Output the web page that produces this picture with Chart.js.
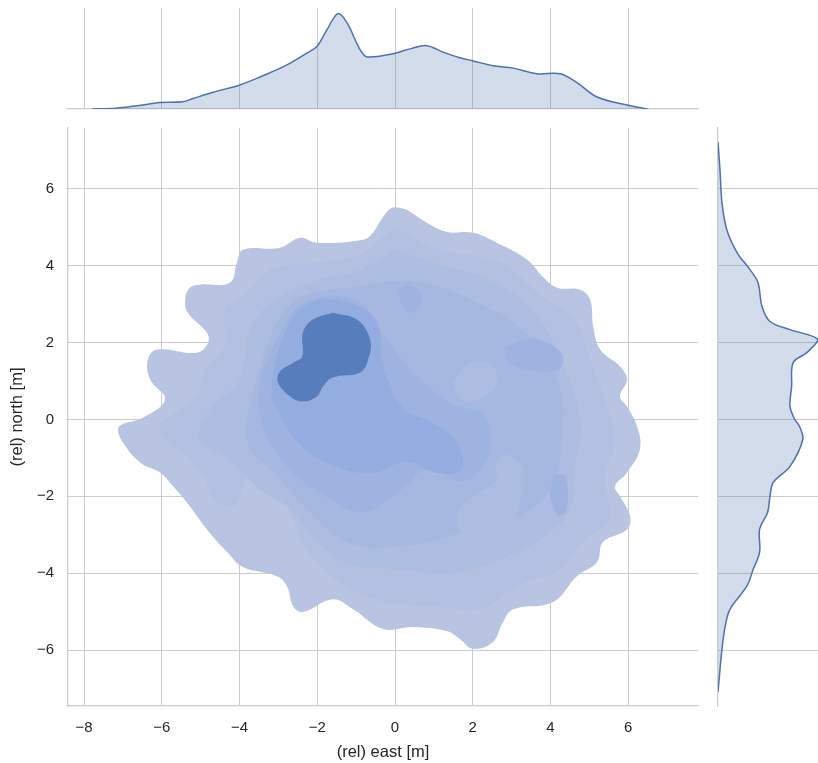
<!DOCTYPE html>
<html>
<head>
<meta charset="utf-8">
<script src="https://cdn.jsdelivr.net/npm/chart.js@4.4.0/dist/chart.umd.min.js"></script>
<style>
  html, body { margin: 0; padding: 0; background: #fff; }
  #wrap { position: relative; width: 818px; height: 763px; overflow: hidden; }
  canvas { position: absolute; }
  #top-chart { left: 0; top: 0; }
  #main-chart { left: 0; top: 118px; }
  #side-chart { left: 708px; top: 118px; }
</style>
</head>
<body>
<div id="wrap">
  <canvas id="top-chart" width="708" height="118"></canvas>
  <canvas id="main-chart" width="708" height="645"></canvas>
  <canvas id="side-chart" width="110" height="645"></canvas>
</div>
<script>
// marginal kde of east (x) and north (y), density
const eastGrid = [-7.8, -7.18, -6.64, -6.05, -5.46, -5.2, -4.68, -3.99, -3.47, -2.78, -2.26, -2.01, -1.75, -1.47, -1.24, -0.9, -0.72, -0.05, 0.39, 0.82, 1.24, 1.67, 2.01, 2.52, 3.04, 3.65, 4.25, 4.68, 5.2, 5.97, 6.5];
const eastDensity = [0, 0.001, 0.004, 0.008, 0.009, 0.013, 0.021, 0.030, 0.040, 0.055, 0.070, 0.078, 0.099, 0.119, 0.108, 0.074, 0.065, 0.069, 0.075, 0.079, 0.071, 0.064, 0.060, 0.054, 0.051, 0.044, 0.044, 0.033, 0.015, 0.005, 0];

const northGrid = [7.22, 6.49, 5.64, 4.94, 4.34, 3.9, 3.56, 2.94, 2.55, 2.34, 2.08, 1.74, 1.48, 0.86, 0.34, 0.0, -0.18, -0.52, -1.22, -1.64, -2.0, -2.42, -2.86, -3.45, -3.9, -4.34, -4.94, -5.38, -5.97, -7.09];
const northDensity = [0, 0.0025, 0.005, 0.011, 0.024, 0.040, 0.050, 0.055, 0.065, 0.090, 0.125, 0.111, 0.094, 0.092, 0.090, 0.096, 0.102, 0.106, 0.090, 0.069, 0.065, 0.062, 0.052, 0.052, 0.044, 0.036, 0.015, 0.009, 0.005, 0];

// filled kde contour levels, [east, north] vertices
const level1 = [[0.13,5.51],[0.31,5.45],[0.82,5.12],[1.34,4.88],[2.01,4.86],[2.62,4.6],[3.4,4.16],[3.81,3.71],[4.17,3.43],[4.76,3.38],[5.02,3.12],[5.1,2.42],[5.28,1.82],[5.79,1.38],[5.97,1.04],[5.79,0.6],[5.97,0.34],[6.23,-0.18],[6.3,-0.78],[5.97,-1.38],[5.66,-1.74],[5.79,-2.0],[6.05,-2.52],[5.97,-2.86],[5.35,-3.19],[5.2,-3.71],[4.68,-4.08],[4.07,-4.75],[3.04,-4.94],[2.78,-5.27],[2.52,-5.79],[2.01,-5.97],[1.67,-5.71],[1.34,-5.51],[0.46,-5.4],[-0.31,-5.45],[-1.08,-4.94],[-1.6,-4.68],[-2.37,-5.01],[-2.62,-4.86],[-2.78,-4.34],[-3.04,-4.08],[-3.91,-3.84],[-4.32,-3.45],[-4.84,-2.86],[-5.28,-2.26],[-5.71,-1.74],[-6.05,-1.38],[-6.56,-1.12],[-7.0,-0.6],[-7.13,-0.26],[-7.03,-0.13],[-6.48,0.05],[-5.92,0.52],[-6.3,1.04],[-6.36,1.56],[-6.12,1.82],[-5.1,1.74],[-4.81,2.0],[-4.84,2.26],[-5.33,2.78],[-5.4,3.12],[-5.28,3.43],[-5.02,3.51],[-4.25,3.56],[-4.07,4.08],[-3.91,4.42],[-2.96,4.47],[-2.44,4.73],[-2.01,4.6],[-0.82,4.68],[-0.57,4.86],[-0.31,5.27],[-0.08,5.51]];
const level2 = [[0.0,4.99],[1.16,4.42],[2.7,4.1],[3.73,3.25],[4.63,2.6],[5.02,1.56],[5.4,0.52],[5.66,-0.52],[5.4,-1.56],[5.53,-2.6],[4.89,-3.12],[4.25,-3.9],[3.22,-4.29],[2.19,-4.94],[1.16,-4.88],[0.13,-4.81],[-0.31,-4.75],[-1.42,-4.24],[-2.01,-3.71],[-2.44,-3.12],[-2.78,-2.26],[-3.29,-1.56],[-3.81,-1.48],[-3.91,-1.82],[-4.17,-2.26],[-4.68,-2.08],[-4.89,-1.56],[-5.4,-0.91],[-5.92,-0.52],[-6.05,-0.13],[-5.53,0.26],[-5.02,0.78],[-4.89,1.3],[-4.37,1.95],[-4.37,2.86],[-3.73,3.38],[-3.22,3.9],[-1.93,4.1],[-0.9,4.29],[-0.26,4.81]];
const level3 = [[0.0,4.42],[1.16,4.03],[2.7,3.51],[3.73,2.6],[4.25,1.56],[4.76,0.0],[4.63,-1.3],[4.5,-2.34],[3.73,-3.12],[2.7,-3.64],[1.42,-4.03],[0.13,-3.9],[-1.16,-3.77],[-1.93,-3.25],[-2.7,-2.34],[-3.47,-1.82],[-4.25,-1.04],[-5.02,-0.52],[-4.76,0.26],[-3.99,1.04],[-3.73,2.34],[-3.09,3.12],[-1.93,3.64],[-0.9,3.9]];
const level4 = [[-1.5,3.4],[0.5,3.6],[2.0,3.1],[3.3,2.3],[4.2,1.0],[4.3,-0.5],[4.0,-1.8],[3.0,-2.6],[1.5,-3.0],[0.2,-3.3],[-1.2,-3.2],[-2.2,-2.4],[-3.0,-1.5],[-3.8,-0.6],[-3.7,0.5],[-3.4,1.6],[-3.0,2.6],[-2.4,3.2]];
const level4HoleSouth = [[2.9,-0.9],[3.3,-1.3],[3.2,-2.2],[2.9,-3.0],[2.3,-3.5],[1.8,-3.1],[1.6,-2.5],[2.0,-2.0],[2.6,-1.6],[2.6,-1.1]];
const level4HoleEast = [[1.5,1.0],[2.0,1.5],[2.5,1.4],[2.6,0.9],[2.1,0.5],[1.6,0.6]];
const level5 = [[-3.2,1.8],[-2.4,3.0],[-1.0,3.1],[-0.3,2.2],[0.5,1.2],[1.5,0.4],[2.3,0.1],[2.4,-0.9],[1.8,-1.6],[0.8,-1.3],[0.2,-1.8],[-0.8,-2.4],[-1.8,-2.0],[-2.8,-1.2],[-3.4,-0.2],[-3.5,0.8]];
const level5East = [[2.8,1.9],[3.6,2.1],[4.3,1.7],[4.2,1.3],[3.4,1.3],[2.9,1.5]];
const level5North = [[0.1,3.4],[0.4,3.5],[0.7,3.2],[0.5,2.8],[0.2,2.9]];
const level5SouthEast = [[4.1,-1.4],[4.4,-1.5],[4.4,-2.4],[4.2,-2.5],[4.0,-2.0]];
const level6 = [[-3.2,0.6],[-3.0,1.8],[-2.4,2.9],[-1.4,3.1],[-0.5,2.6],[-0.3,1.4],[0.2,0.3],[1.0,-0.1],[1.6,-0.6],[1.7,-1.3],[1.1,-1.4],[0.3,-1.1],[-0.6,-1.4],[-1.6,-1.2],[-2.5,-0.6]];
const level7 = [[-1.6,2.78],[-0.98,2.6],[-0.64,2.08],[-0.69,1.56],[-0.9,1.22],[-1.6,1.09],[-1.85,0.86],[-2.01,0.6],[-2.37,0.47],[-2.7,0.6],[-3.01,0.96],[-2.96,1.25],[-2.62,1.48],[-2.39,1.64],[-2.37,2.26],[-2.11,2.6]];

const xTicks = [-8, -6, -4, -2, 0, 2, 4, 6];
const yTicks = [-6, -4, -2, 0, 2, 4, 6];

const blue = '#4c72b0';
const levelColors = ['#b9c4e2', '#b3c0e1', '#adbce1', '#a7b8e0', '#9fb3e0', '#94ade0', '#587dbd'];
const gridColor = '#cccccc';
const textColor = '#262626';
const xMin = -8.415, xMax = 7.797;
const yMin = -7.457, yMax = 7.587;

Chart.defaults.font.family = '"Liberation Sans", Arial, sans-serif';
Chart.defaults.color = textColor;
Chart.defaults.animation = false;

const minus = v => (v < 0 ? '\u2212' : '') + Math.abs(v);

// drawn bottom to top
const shapes = [
  [level1, 0], [level2, 1], [level3, 2], [level4, 3],
  [level4HoleSouth, 2], [level4HoleEast, 2],
  [level5, 4], [level5East, 4], [level5North, 4], [level5SouthEast, 4],
  [level6, 5], [level7, 6]
];

const contourSets = shapes.map(([pts, lvl], i) => ({
  data: pts.concat([pts[0]]).map(p => ({x: p[0], y: p[1]})),
  showLine: true,
  fill: 'shape',
  backgroundColor: levelColors[lvl],
  borderWidth: 0,
  borderColor: 'rgba(0,0,0,0)',
  pointRadius: 0,
  tension: 0.4,
  order: 100 - i,
}));

// keep the plot box fixed, no extra room for half labels
const fixX = h => s => { s.height = h; s.paddingLeft = 0; s.paddingRight = 0; };
const fixY = w => s => { s.width = w; s.paddingTop = 0; s.paddingBottom = 0; };

new Chart(document.getElementById('main-chart'), {
  type: 'scatter',
  data: { datasets: contourSets },
  options: {
    responsive: false,
    layout: { padding: { left: 0, right: 10, top: 10, bottom: 0 } },
    plugins: { legend: { display: false }, tooltip: { enabled: false } },
    scales: {
      x: {
        min: xMin, max: xMax,
        afterBuildTicks: s => { s.ticks = xTicks.map(v => ({value: v})); },
        afterFit: fixX(57),
        ticks: { callback: minus, font: { size: 15 }, padding: 13, maxRotation: 0, color: textColor },
        grid: { color: gridColor, lineWidth: 1, drawTicks: false },
        border: { color: gridColor, width: 1.25 },
        title: { display: true, text: '(rel) east [m]', font: { size: 16.5 }, color: textColor, padding: { top: 0, bottom: 1 } },
      },
      y: {
        min: yMin, max: yMax,
        afterBuildTicks: s => { s.ticks = yTicks.map(v => ({value: v})); },
        afterFit: fixY(68),
        ticks: { callback: minus, font: { size: 15 }, padding: 14, color: textColor },
        grid: { color: gridColor, lineWidth: 1, drawTicks: false },
        border: { color: gridColor, width: 1.25 },
        title: { display: true, text: '(rel) north [m]', font: { size: 16.5 }, color: textColor, padding: { top: 8, bottom: 0 } },
      }
    }
  }
});

new Chart(document.getElementById('top-chart'), {
  type: 'scatter',
  data: {
    datasets: [{
      data: eastGrid.map((x, i) => ({x: x, y: eastDensity[i]})),
      showLine: true,
      fill: 'origin',
      backgroundColor: 'rgba(76,114,176,0.25)',
      borderColor: blue,
      borderWidth: 1.5,
      pointRadius: 0,
      tension: 0.35,
    }]
  },
  options: {
    responsive: false,
    layout: { padding: { left: 68, right: 10, top: 8, bottom: 0 } },
    plugins: { legend: { display: false }, tooltip: { enabled: false } },
    scales: {
      x: {
        min: xMin, max: xMax,
        afterBuildTicks: s => { s.ticks = xTicks.map(v => ({value: v})); },
        afterFit: fixX(9),
        ticks: { display: false },
        grid: { color: gridColor, lineWidth: 1, drawTicks: false },
        border: { color: gridColor, width: 1.25 },
      },
      y: { display: false, min: 0, max: 0.126 }
    }
  }
});

new Chart(document.getElementById('side-chart'), {
  type: 'scatter',
  data: {
    datasets: [{
      data: northGrid.map((y, i) => ({x: northDensity[i], y: y})),
      showLine: true,
      fill: 'shape',
      backgroundColor: 'rgba(76,114,176,0.25)',
      borderColor: blue,
      borderWidth: 1.5,
      pointRadius: 0,
      tension: 0.35,
    }]
  },
  options: {
    responsive: false,
    layout: { padding: { left: 0, right: 0, top: 10, bottom: 57 } },
    plugins: { legend: { display: false }, tooltip: { enabled: false } },
    scales: {
      x: { display: false, min: 0, max: 0.125 },
      y: {
        min: yMin, max: yMax,
        afterBuildTicks: s => { s.ticks = yTicks.map(v => ({value: v})); },
        afterFit: fixY(10),
        ticks: { display: false },
        grid: { color: gridColor, lineWidth: 1, drawTicks: false },
        border: { color: gridColor, width: 1.25 },
      }
    }
  }
});
</script>
</body>
</html>
